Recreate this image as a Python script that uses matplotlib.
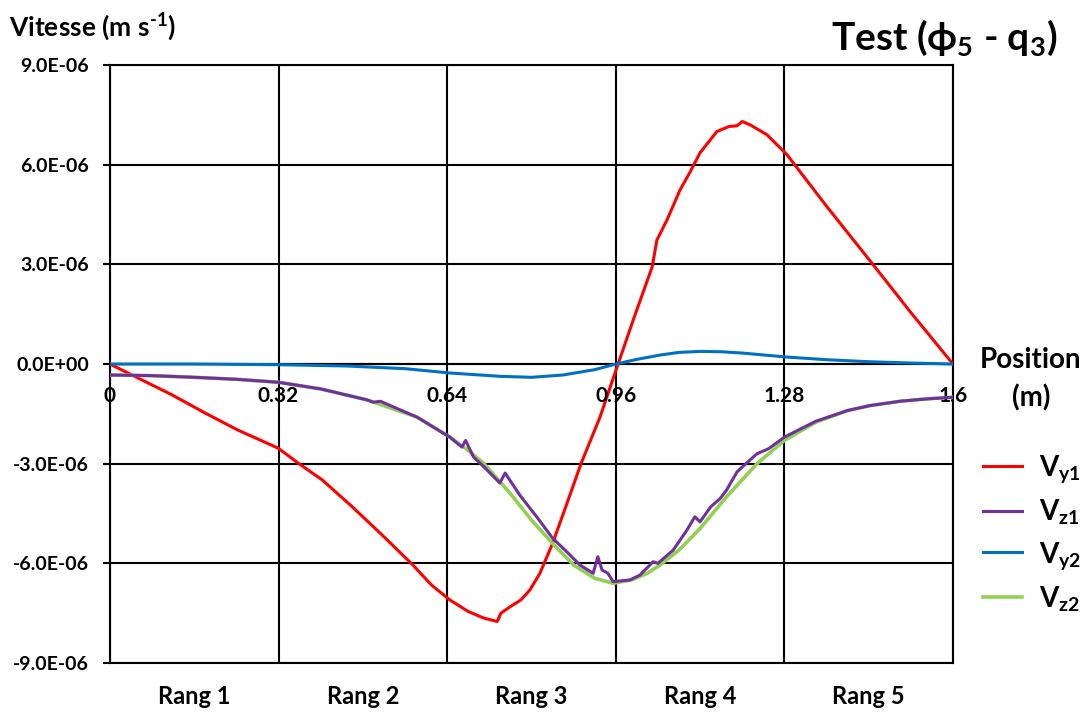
import matplotlib
matplotlib.use("Agg")
import matplotlib.pyplot as plt
import numpy as np

plt.rcParams['font.family'] = ['Lato', 'DejaVu Sans']
plt.rcParams['font.weight'] = 'bold'
plt.rcParams['mathtext.fontset'] = 'custom'
plt.rcParams['mathtext.rm'] = 'Lato:bold'
plt.rcParams['mathtext.it'] = 'Lato:bold'
plt.rcParams['mathtext.bf'] = 'Lato:bold'

# data (x in m, speeds in 1e-6 m/s)
x_vy1 = [0, 0.053, 0.118, 0.18, 0.243, 0.319, 0.357, 0.403, 0.46, 0.52, 0.575, 0.61, 0.645,
         0.68, 0.71, 0.735, 0.742, 0.76, 0.78, 0.797, 0.816, 0.84, 0.865, 0.894, 0.93, 0.965,
         0.993, 1.029, 1.038, 1.057, 1.082, 1.1, 1.12, 1.152, 1.175, 1.19, 1.2, 1.215, 1.247,
         1.285, 1.36, 1.448, 1.52, 1.6]
vy1 = [0, -0.42, -0.93, -1.47, -1.99, -2.53, -2.98, -3.49, -4.3, -5.2, -6.05, -6.65, -7.1,
       -7.45, -7.65, -7.75, -7.5, -7.3, -7.1, -6.8, -6.3, -5.4, -4.3, -3.0, -1.6, 0.03, 1.32,
       2.92, 3.73, 4.33, 5.24, 5.75, 6.36, 7.0, 7.15, 7.17, 7.3, 7.2, 6.9, 6.3, 4.75, 3.0,
       1.55, 0]

x_vy2 = [0, 0.16, 0.32, 0.45, 0.56, 0.645, 0.74, 0.8, 0.86, 0.92, 0.96, 1.0, 1.044, 1.08,
         1.12, 1.16, 1.2, 1.285, 1.36, 1.44, 1.52, 1.6]
vy2 = [0, 0, -0.02, -0.06, -0.14, -0.27, -0.37, -0.4, -0.33, -0.17, 0, 0.14, 0.27, 0.35,
       0.38, 0.37, 0.33, 0.21, 0.13, 0.07, 0.03, 0]

x_vz2 = [0, 0.08, 0.16, 0.24, 0.32, 0.4, 0.488, 0.583, 0.645, 0.68, 0.71, 0.76, 0.8, 0.84,
         0.88, 0.92, 0.955, 0.99, 1.02, 1.044, 1.08, 1.12, 1.17, 1.228, 1.28, 1.34, 1.4, 1.443,
         1.5, 1.55, 1.6]
vz2 = [-0.33, -0.35, -0.4, -0.46, -0.55, -0.75, -1.08, -1.6, -2.2, -2.6, -3.0, -3.9, -4.7,
       -5.4, -6.05, -6.45, -6.6, -6.5, -6.3, -6.05, -5.6, -4.95, -4.0, -3.0, -2.3, -1.75, -1.4,
       -1.25, -1.12, -1.05, -1.0]

x_vz1 = [0, 0.08, 0.16, 0.24, 0.32, 0.4, 0.488, 0.5, 0.513, 0.583, 0.645, 0.668, 0.675, 0.69,
         0.71, 0.74, 0.75, 0.778, 0.81, 0.84, 0.87, 0.892, 0.917, 0.926, 0.934, 0.945, 0.955,
         0.987, 1.006, 1.031, 1.04, 1.069, 1.095, 1.11, 1.12, 1.14, 1.158, 1.17, 1.19, 1.2,
         1.228, 1.25, 1.28, 1.34, 1.4, 1.443, 1.5, 1.55, 1.6]
vz1 = [-0.33, -0.35, -0.4, -0.46, -0.55, -0.75, -1.08, -1.15, -1.12, -1.6, -2.2, -2.5, -2.3,
       -2.8, -3.1, -3.58, -3.28, -3.95, -4.6, -5.24, -5.7, -6.05, -6.3, -5.8, -6.2, -6.3, -6.55,
       -6.5, -6.35, -5.95, -6.0, -5.6, -5.0, -4.6, -4.75, -4.3, -4.05, -3.8, -3.25, -3.1, -2.7,
       -2.55, -2.2, -1.72, -1.4, -1.25, -1.12, -1.05, -1.0]

xticks = [0, 0.32, 0.64, 0.96, 1.28, 1.6]
xtick_labels = ['0', '0.32', '0.64', '0.96', '1.28', '1.6']
yticks = [-9, -6, -3, 0, 3, 6, 9]
ytick_labels = ['-9.0E-06', '-6.0E-06', '-3.0E-06', '0.0E+00', '3.0E-06', '6.0E-06', '9.0E-06']
rangs = ['Rang 1', 'Rang 2', 'Rang 3', 'Rang 4', 'Rang 5']

fig = plt.figure(figsize=(10.92, 7.13), dpi=100)
ax = fig.add_axes([0.1007, 0.0701, 0.7720, 0.8387])

ax.plot(x_vy1, vy1, color='#FF0000', lw=2.2, label=r'V$_{\mathrm{y1}}$', zorder=3)
ax.plot(x_vz2, vz2, color='#92D050', lw=2.6, label=r'V$_{\mathrm{z2}}$', zorder=3)
ax.plot(x_vz1, vz1, color='#7030A0', lw=2.2, label=r'V$_{\mathrm{z1}}$', zorder=4)
ax.plot(x_vy2, vy2, color='#0070C0', lw=2.2, label=r'V$_{\mathrm{y2}}$', zorder=5)

ax.set_xlim(0, 1.6)
ax.set_ylim(-9, 9)
ax.set_xticks(xticks)
ax.set_xticklabels([])
ax.tick_params(axis='x', length=0)
ax.set_yticks(yticks)
ax.set_yticklabels(ytick_labels, fontsize=14, fontweight='bold')
ax.tick_params(axis='y', direction='out', length=5, width=1.5, pad=10)
ax.grid(True, color='black', lw=1.5)
ax.axhline(0, color='black', lw=1.5, zorder=2)
for s in ax.spines.values():
    s.set_linewidth(1.5)

# x tick labels sit under the zero line
for xv, lab in zip(xticks, xtick_labels):
    ax.text(xv, -0.65, lab, ha='center', va='top', fontsize=15, fontweight='bold')

for i, r in enumerate(rangs):
    ax.text(0.16 + 0.32 * i, -10.0, r, ha='center', va='center', fontsize=17,
            fontweight='bold')

fig.text(0.008, 0.962, r'Vitesse (m s$^{\text{-}1}$)', ha='left', va='center', fontsize=19,
         fontweight='bold')
fig.text(0.968, 0.947, r'Test ($\phi_5$ - q$_3$)', ha='right', va='center', fontsize=28,
         fontweight='bold')
fig.text(0.944, 0.468, 'Position\n(m)', ha='center', va='center', fontsize=20,
         fontweight='bold', linespacing=1.5)

handles, labels = ax.get_legend_handles_labels()
order = [0, 2, 3, 1]
leg = fig.legend([handles[i] for i in order], [labels[i] for i in order],
                 loc='center', bbox_to_anchor=(0.945, 0.252), frameon=False,
                 prop={'size': 20, 'weight': 'bold'}, handlelength=1.4,
                 labelspacing=0.45, handletextpad=0.6)

fig.savefig('out.png', dpi=100)
